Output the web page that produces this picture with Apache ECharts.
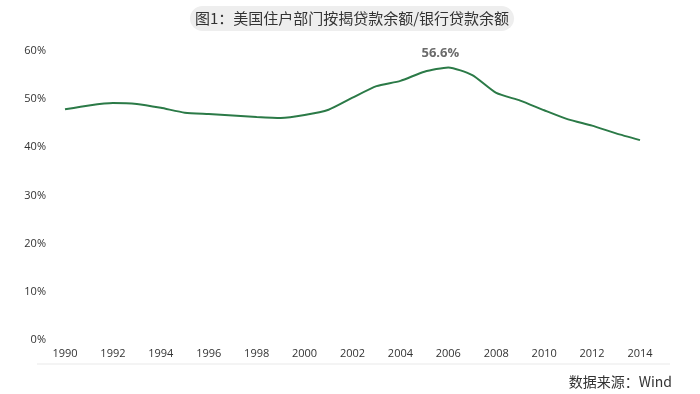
<!DOCTYPE html>
<html>
<head>
<meta charset="utf-8">
<script src="https://cdn.jsdelivr.net/npm/echarts@6/dist/echarts.min.js"></script>
<style>html,body{margin:0;padding:0;background:#fff;}#c{width:700px;height:394px;}</style>
</head>
<body>
<div id="c"></div>
<script>
const years = ['1990','1991','1992','1993','1994','1995','1996','1997','1998','1999','2000','2001','2002','2003','2004','2005','2006','2007','2008','2009','2010','2011','2012','2013','2014'];
const ratio = [47.9,48.7,49.2,49.0,48.2,47.2,46.9,46.6,46.3,46.1,46.7,47.8,50.3,52.7,53.8,55.7,56.6,55.0,51.3,49.7,47.7,45.8,44.5,42.9,41.5];
const yTicks = [0,10,20,30,40,50,60];
const titleText = '图1：美国住户部门按揭贷款余额/银行贷款余额';
const sourceText = '数据来源：Wind';
const peakIndex = 16;

const chart = echarts.init(document.getElementById('c'));

chart.setOption({
  animation: false,
  backgroundColor: '#fff',
  graphic: [
    {type: 'rect', shape: {x: 190, y: 6, width: 324, height: 25, r: 12.5}, style: {fill: '#eeeeee'}},
    {type: 'text', x: 352, y: 18.5, style: {text: titleText, fill: '#333', fontSize: 15, fontFamily: 'Noto Sans CJK SC', align: 'center', verticalAlign: 'middle'}},
    {type: 'line', shape: {x1: 37, y1: 364, x2: 670, y2: 364}, style: {stroke: '#f0f0f0', lineWidth: 1.5}},
    {type: 'text', x: 672, y: 382, style: {text: sourceText, fill: '#333', fontSize: 14, fontFamily: 'Noto Sans CJK SC', align: 'right', verticalAlign: 'middle'}}
  ],
  grid: {left: 65, right: 60, top: 51, bottom: 54},
  xAxis: {
    type: 'category',
    data: years,
    boundaryGap: false,
    axisLine: {show: false},
    axisTick: {show: false},
    axisLabel: {interval: 1, color: '#333', fontSize: 11, margin: 8, fontFamily: 'Open Sans'}
  },
  yAxis: {
    type: 'value',
    min: yTicks[0],
    max: yTicks[yTicks.length - 1],
    interval: 10,
    splitLine: {show: false},
    axisLine: {show: false},
    axisTick: {show: false},
    axisLabel: {formatter: '{value}%', color: '#333', fontSize: 11, margin: 19, fontFamily: 'Open Sans'}
  },
  series: [{
    type: 'line',
    data: ratio,
    smooth: 0.2,
    symbol: 'none',
    lineStyle: {color: '#2b7a47', width: 2},
    markPoint: {
      symbol: 'circle',
      symbolSize: 1,
      itemStyle: {color: 'rgba(0,0,0,0)'},
      label: {show: true, position: 'top', distance: 7, offset: [-8, 0], formatter: p => p.value.toFixed(1) + '%', color: '#6b6b6b', fontWeight: 'bold', fontSize: 13, fontFamily: 'Open Sans'},
      data: [{coord: [peakIndex, ratio[peakIndex]], value: ratio[peakIndex]}]
    }
  }]
});
</script>
</body>
</html>
